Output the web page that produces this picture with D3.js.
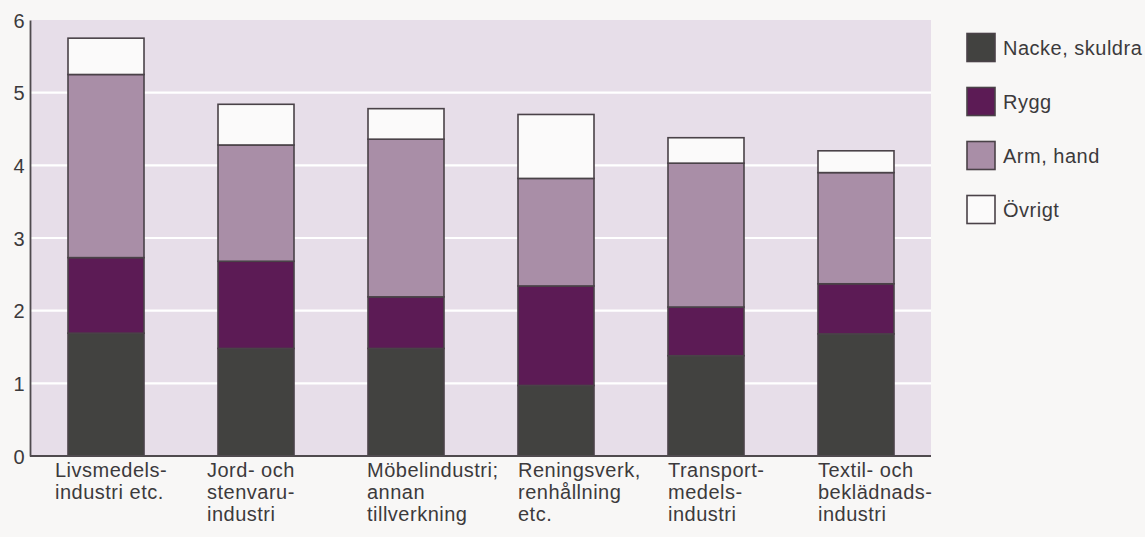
<!DOCTYPE html>
<html>
<head>
<meta charset="utf-8">
<script src="https://cdn.jsdelivr.net/npm/d3@7"></script>
<style>
  html, body { margin: 0; padding: 0; background: #f8f7f6; }
  svg { display: block; }
  text { font-family: "Liberation Sans", Arial, Helvetica, sans-serif; fill: #3c3a3c; letter-spacing: 0.5px; }
</style>
</head>
<body>
<svg id="chart" width="1145" height="537"></svg>
<script>
// Industry groups, one label line per array entry
const categories = [
  ["Livsmedels-", "industri etc."],
  ["Jord- och", "stenvaru-", "industri"],
  ["Möbelindustri;", "annan", "tillverkning"],
  ["Reningsverk,", "renhållning", "etc."],
  ["Transport-", "medels-", "industri"],
  ["Textil- och", "beklädnads-", "industri"]
];

// Body regions, stacked bottom to top
const seriesNames = ["Nacke, skuldra", "Rygg", "Arm, hand", "Övrigt"];
const nacke  = [1.69, 1.48, 1.48, 0.97, 1.38, 1.68];
const rygg   = [1.04, 1.20, 0.71, 1.37, 0.67, 0.69];
const arm    = [2.52, 1.60, 2.17, 1.48, 1.98, 1.53];
const ovrigt = [0.50, 0.56, 0.42, 0.88, 0.35, 0.30];

const yTicks = [0, 1, 2, 3, 4, 5, 6];

const colors = ["#424240", "#5c1b55", "#a98ea7", "#fbfafa"];
const labelShift = [-13, -11, -1, 0, 0, 0];

const svg = d3.select("#chart");
const plot = { left: 31, right: 931, top: 20, bottom: 456 };

const keys = categories.map((c, i) => "c" + i);
const x = d3.scaleBand()
  .domain(keys)
  .range([plot.left, plot.right])
  .paddingInner(0.4933)
  .paddingOuter(0.2467);

const y = d3.scaleLinear().domain([0, 6]).range([plot.bottom, plot.top]);

// rows for the stack
const rows = keys.map((k, i) => ({
  key: k,
  s0: nacke[i], s1: rygg[i], s2: arm[i], s3: ovrigt[i]
}));
const stack = d3.stack().keys(["s0", "s1", "s2", "s3"])(rows);

// plot background
svg.append("rect")
  .attr("x", plot.left).attr("y", plot.top)
  .attr("width", plot.right - plot.left)
  .attr("height", plot.bottom - plot.top)
  .attr("fill", "#e7dee9");

// white gridlines
svg.append("g")
  .selectAll("line")
  .data(yTicks.filter(t => t > 0 && t < 6))
  .join("line")
  .attr("x1", plot.left).attr("x2", plot.right)
  .attr("y1", d => y(d)).attr("y2", d => y(d))
  .attr("stroke", "#ffffff")
  .attr("stroke-width", 2.2);

// stacked bars
svg.append("g")
  .selectAll("g")
  .data(stack)
  .join("g")
  .attr("fill", (d, i) => colors[i])
  .selectAll("rect")
  .data(d => d)
  .join("rect")
  .attr("x", d => x(d.data.key))
  .attr("width", x.bandwidth())
  .attr("y", d => y(d[1]))
  .attr("height", d => y(d[0]) - y(d[1]))
  .attr("stroke", "#4a4248")
  .attr("stroke-width", 1.6);

// y axis
const yAxis = d3.axisLeft(y).tickValues(yTicks).tickSize(0).tickPadding(5).tickFormat(d3.format("d"));
const gy = svg.append("g").attr("transform", `translate(${plot.left - 1},0)`).call(yAxis);
gy.select(".domain").attr("stroke", "#4f4a4e").attr("stroke-width", 1.8);
gy.selectAll("text")
  .style("font-size", "20px")
  .attr("fill", "#3c3a3c")
  .attr("dy", "0.36em");

// baseline
svg.append("line")
  .attr("x1", plot.left - 1).attr("x2", plot.right)
  .attr("y1", y(0)).attr("y2", y(0))
  .attr("stroke", "#4f4a4e")
  .attr("stroke-width", 2);

// category labels
const lab = svg.append("g")
  .selectAll("text")
  .data(categories)
  .join("text")
  .attr("x", (d, i) => x(keys[i]) + labelShift[i])
  .attr("y", 477)
  .style("font-size", "20px");
lab.selectAll("tspan")
  .data(d => d)
  .join("tspan")
  .attr("x", function () { return d3.select(this.parentNode).attr("x"); })
  .attr("dy", (d, i) => i === 0 ? 0 : 22)
  .text(d => d);

// legend
const legend = svg.append("g")
  .selectAll("g")
  .data(seriesNames)
  .join("g")
  .attr("transform", (d, i) => `translate(967,${33.5 + i * 54})`);
legend.append("rect")
  .attr("width", 28).attr("height", 28)
  .attr("fill", (d, i) => colors[i])
  .attr("stroke", "#4a4248")
  .attr("stroke-width", 1.6);
legend.append("text")
  .attr("x", 36).attr("y", 14)
  .attr("dy", "0.36em")
  .style("font-size", "20px")
  .text(d => d);
</script>
</body>
</html>
